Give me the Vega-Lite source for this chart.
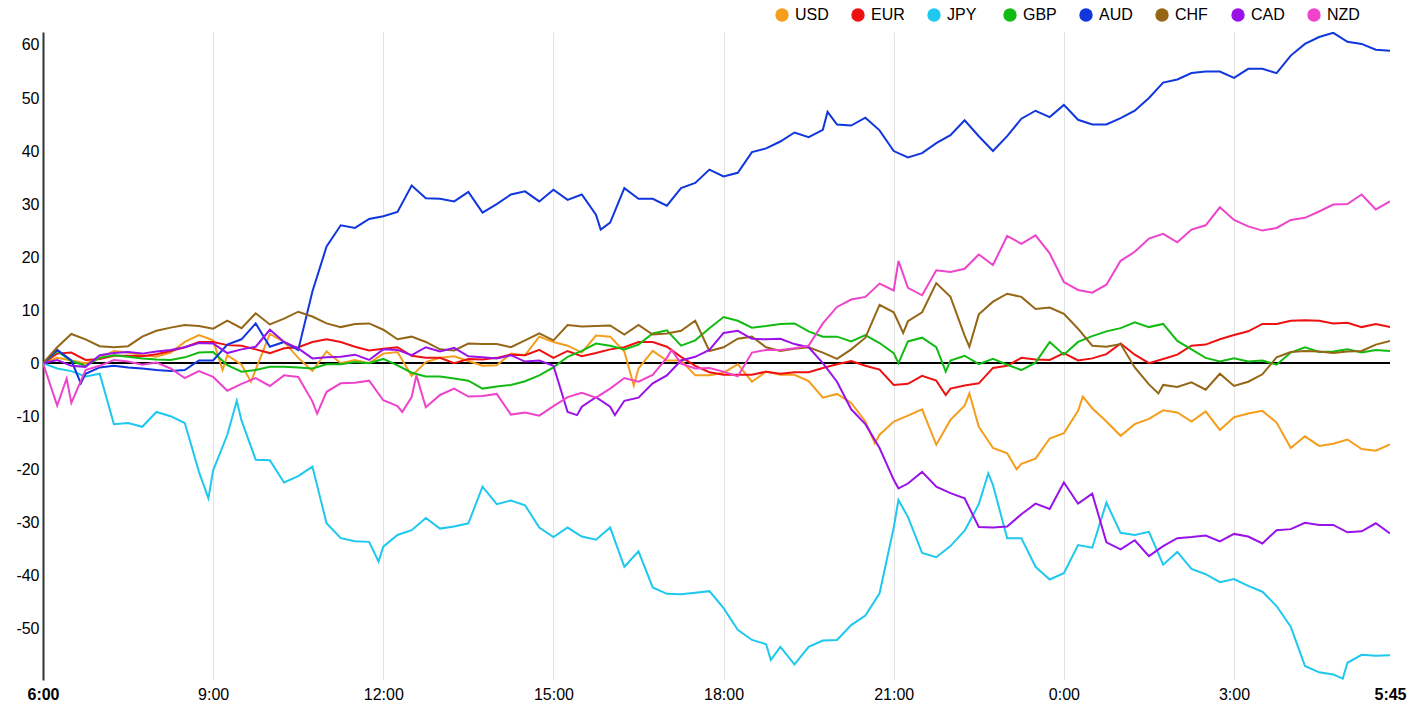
{
  "$schema": "https://vega.github.io/schema/vega-lite/v6.json",
  "width": 1347,
  "height": 648,
  "autosize": {"type": "none"},
  "padding": {"left": 43, "top": 32, "right": 20, "bottom": 31},
  "background": "#ffffff",
  "data": {
    "values": [
      {"t":"2024-05-14T06:00","c":"USD","v":0},{"t":"2024-05-14T06:15","c":"USD","v":1},{"t":"2024-05-14T06:30","c":"USD","v":0.5},{"t":"2024-05-14T06:45","c":"USD","v":0},
      {"t":"2024-05-14T07:00","c":"USD","v":1},{"t":"2024-05-14T07:15","c":"USD","v":2.3},{"t":"2024-05-14T07:30","c":"USD","v":2},{"t":"2024-05-14T07:45","c":"USD","v":1.5},
      {"t":"2024-05-14T08:00","c":"USD","v":1.2},{"t":"2024-05-14T08:15","c":"USD","v":2},{"t":"2024-05-14T08:30","c":"USD","v":4},{"t":"2024-05-14T08:45","c":"USD","v":5.3},
      {"t":"2024-05-14T09:00","c":"USD","v":4.3},{"t":"2024-05-14T09:15","c":"USD","v":1.5},{"t":"2024-05-14T09:30","c":"USD","v":-0.3},{"t":"2024-05-14T09:45","c":"USD","v":-1.2},
      {"t":"2024-05-14T10:00","c":"USD","v":5.5},{"t":"2024-05-14T10:15","c":"USD","v":4},{"t":"2024-05-14T10:30","c":"USD","v":1},{"t":"2024-05-14T10:45","c":"USD","v":-1.5},
      {"t":"2024-05-14T11:00","c":"USD","v":2.2},{"t":"2024-05-14T11:15","c":"USD","v":0},{"t":"2024-05-14T11:30","c":"USD","v":0.6},{"t":"2024-05-14T11:45","c":"USD","v":0},
      {"t":"2024-05-14T12:00","c":"USD","v":1.8},{"t":"2024-05-14T12:15","c":"USD","v":2.1},{"t":"2024-05-14T12:30","c":"USD","v":-2.4},{"t":"2024-05-14T12:45","c":"USD","v":0.2},
      {"t":"2024-05-14T13:00","c":"USD","v":1},{"t":"2024-05-14T13:15","c":"USD","v":1.3},{"t":"2024-05-14T13:30","c":"USD","v":0.4},{"t":"2024-05-14T13:45","c":"USD","v":-0.5},
      {"t":"2024-05-14T14:00","c":"USD","v":-0.4},{"t":"2024-05-14T14:15","c":"USD","v":1.8},{"t":"2024-05-14T14:30","c":"USD","v":1.5},{"t":"2024-05-14T14:45","c":"USD","v":5},
      {"t":"2024-05-14T15:00","c":"USD","v":4},{"t":"2024-05-14T15:15","c":"USD","v":3.3},{"t":"2024-05-14T15:30","c":"USD","v":2},{"t":"2024-05-14T15:45","c":"USD","v":5.2},
      {"t":"2024-05-14T16:00","c":"USD","v":5},{"t":"2024-05-14T16:15","c":"USD","v":2.2},{"t":"2024-05-14T16:30","c":"USD","v":-1},{"t":"2024-05-14T16:45","c":"USD","v":2.3},
      {"t":"2024-05-14T17:00","c":"USD","v":0.5},{"t":"2024-05-14T17:15","c":"USD","v":0.5},{"t":"2024-05-14T17:30","c":"USD","v":-2.3},{"t":"2024-05-14T17:45","c":"USD","v":-2.3},
      {"t":"2024-05-14T18:00","c":"USD","v":-1.8},{"t":"2024-05-14T18:15","c":"USD","v":-0.2},{"t":"2024-05-14T18:30","c":"USD","v":-3.5},{"t":"2024-05-14T18:45","c":"USD","v":-1.6},
      {"t":"2024-05-14T19:00","c":"USD","v":-2.2},{"t":"2024-05-14T19:15","c":"USD","v":-2.2},{"t":"2024-05-14T19:30","c":"USD","v":-3.4},{"t":"2024-05-14T19:45","c":"USD","v":-6.5},
      {"t":"2024-05-14T20:00","c":"USD","v":-5.8},{"t":"2024-05-14T20:15","c":"USD","v":-7.5},{"t":"2024-05-14T20:30","c":"USD","v":-11},{"t":"2024-05-14T20:45","c":"USD","v":-13.5},
      {"t":"2024-05-14T21:00","c":"USD","v":-11},{"t":"2024-05-14T21:15","c":"USD","v":-9.9},{"t":"2024-05-14T21:30","c":"USD","v":-8.7},{"t":"2024-05-14T21:45","c":"USD","v":-15.4},
      {"t":"2024-05-14T22:00","c":"USD","v":-10.7},{"t":"2024-05-14T22:15","c":"USD","v":-8},{"t":"2024-05-14T22:30","c":"USD","v":-12},{"t":"2024-05-14T22:45","c":"USD","v":-16},
      {"t":"2024-05-14T23:00","c":"USD","v":-17},{"t":"2024-05-14T23:15","c":"USD","v":-19},{"t":"2024-05-14T23:30","c":"USD","v":-18},{"t":"2024-05-14T23:45","c":"USD","v":-14.2},
      {"t":"2024-05-15T00:00","c":"USD","v":-13.2},{"t":"2024-05-15T00:15","c":"USD","v":-9},{"t":"2024-05-15T00:30","c":"USD","v":-8.5},{"t":"2024-05-15T00:45","c":"USD","v":-11},
      {"t":"2024-05-15T01:00","c":"USD","v":-13.7},{"t":"2024-05-15T01:15","c":"USD","v":-11.5},{"t":"2024-05-15T01:30","c":"USD","v":-10.5},{"t":"2024-05-15T01:45","c":"USD","v":-8.9},
      {"t":"2024-05-15T02:00","c":"USD","v":-9.3},{"t":"2024-05-15T02:15","c":"USD","v":-11},{"t":"2024-05-15T02:30","c":"USD","v":-9.1},{"t":"2024-05-15T02:45","c":"USD","v":-12.6},
      {"t":"2024-05-15T03:00","c":"USD","v":-10.2},{"t":"2024-05-15T03:15","c":"USD","v":-9.5},{"t":"2024-05-15T03:30","c":"USD","v":-9},{"t":"2024-05-15T03:45","c":"USD","v":-11.2},
      {"t":"2024-05-15T04:00","c":"USD","v":-16},{"t":"2024-05-15T04:15","c":"USD","v":-13.8},{"t":"2024-05-15T04:30","c":"USD","v":-15.6},{"t":"2024-05-15T04:45","c":"USD","v":-15.2},
      {"t":"2024-05-15T05:00","c":"USD","v":-14.4},{"t":"2024-05-15T05:15","c":"USD","v":-16.2},{"t":"2024-05-15T05:30","c":"USD","v":-16.5},{"t":"2024-05-15T05:45","c":"USD","v":-15.3},
      {"t":"2024-05-14T09:10","c":"USD","v":-1.3},{"t":"2024-05-14T09:40","c":"USD","v":-3.5},{"t":"2024-05-14T16:25","c":"USD","v":-4.2},{"t":"2024-05-14T20:40","c":"USD","v":-15.1},
      {"t":"2024-05-14T22:20","c":"USD","v":-5.7},{"t":"2024-05-14T23:10","c":"USD","v":-20},{"t":"2024-05-15T00:20","c":"USD","v":-6.3},

      {"t":"2024-05-14T06:00","c":"EUR","v":0},{"t":"2024-05-14T06:15","c":"EUR","v":1.8},{"t":"2024-05-14T06:30","c":"EUR","v":2},{"t":"2024-05-14T06:45","c":"EUR","v":0.6},
      {"t":"2024-05-14T07:00","c":"EUR","v":0.8},{"t":"2024-05-14T07:15","c":"EUR","v":1.4},{"t":"2024-05-14T07:30","c":"EUR","v":1.4},{"t":"2024-05-14T07:45","c":"EUR","v":1.3},
      {"t":"2024-05-14T08:00","c":"EUR","v":1.7},{"t":"2024-05-14T08:15","c":"EUR","v":2.3},{"t":"2024-05-14T08:30","c":"EUR","v":3},{"t":"2024-05-14T08:45","c":"EUR","v":4},
      {"t":"2024-05-14T09:00","c":"EUR","v":4},{"t":"2024-05-14T09:15","c":"EUR","v":3.4},{"t":"2024-05-14T09:30","c":"EUR","v":3.3},{"t":"2024-05-14T09:45","c":"EUR","v":2.6},
      {"t":"2024-05-14T10:00","c":"EUR","v":1.9},{"t":"2024-05-14T10:15","c":"EUR","v":2.8},{"t":"2024-05-14T10:30","c":"EUR","v":3},{"t":"2024-05-14T10:45","c":"EUR","v":4},
      {"t":"2024-05-14T11:00","c":"EUR","v":4.5},{"t":"2024-05-14T11:15","c":"EUR","v":4},{"t":"2024-05-14T11:30","c":"EUR","v":3.1},{"t":"2024-05-14T11:45","c":"EUR","v":2.4},
      {"t":"2024-05-14T12:00","c":"EUR","v":2.7},{"t":"2024-05-14T12:15","c":"EUR","v":3},{"t":"2024-05-14T12:30","c":"EUR","v":1.4},{"t":"2024-05-14T12:45","c":"EUR","v":1},
      {"t":"2024-05-14T13:00","c":"EUR","v":1},{"t":"2024-05-14T13:15","c":"EUR","v":0},{"t":"2024-05-14T13:30","c":"EUR","v":0.8},{"t":"2024-05-14T13:45","c":"EUR","v":0.7},
      {"t":"2024-05-14T14:00","c":"EUR","v":1},{"t":"2024-05-14T14:15","c":"EUR","v":1.6},{"t":"2024-05-14T14:30","c":"EUR","v":1.5},{"t":"2024-05-14T14:45","c":"EUR","v":2.5},
      {"t":"2024-05-14T15:00","c":"EUR","v":1},{"t":"2024-05-14T15:15","c":"EUR","v":2.3},{"t":"2024-05-14T15:30","c":"EUR","v":1.3},{"t":"2024-05-14T15:45","c":"EUR","v":1.9},
      {"t":"2024-05-14T16:00","c":"EUR","v":2.6},{"t":"2024-05-14T16:15","c":"EUR","v":3},{"t":"2024-05-14T16:30","c":"EUR","v":4},{"t":"2024-05-14T16:45","c":"EUR","v":4},
      {"t":"2024-05-14T17:00","c":"EUR","v":3.1},{"t":"2024-05-14T17:15","c":"EUR","v":1.2},{"t":"2024-05-14T17:30","c":"EUR","v":-0.5},{"t":"2024-05-14T17:45","c":"EUR","v":-1.7},
      {"t":"2024-05-14T18:00","c":"EUR","v":-2.2},{"t":"2024-05-14T18:15","c":"EUR","v":-2.2},{"t":"2024-05-14T18:30","c":"EUR","v":-2.2},{"t":"2024-05-14T18:45","c":"EUR","v":-1.6},
      {"t":"2024-05-14T19:00","c":"EUR","v":-2},{"t":"2024-05-14T19:15","c":"EUR","v":-1.7},{"t":"2024-05-14T19:30","c":"EUR","v":-1.7},{"t":"2024-05-14T19:45","c":"EUR","v":-0.9},
      {"t":"2024-05-14T20:00","c":"EUR","v":-0.2},{"t":"2024-05-14T20:15","c":"EUR","v":0.4},{"t":"2024-05-14T20:30","c":"EUR","v":-0.5},{"t":"2024-05-14T20:45","c":"EUR","v":-1.2},
      {"t":"2024-05-14T21:00","c":"EUR","v":-4.1},{"t":"2024-05-14T21:15","c":"EUR","v":-3.9},{"t":"2024-05-14T21:30","c":"EUR","v":-2.4},{"t":"2024-05-14T21:45","c":"EUR","v":-3.3},
      {"t":"2024-05-14T22:00","c":"EUR","v":-4.8},{"t":"2024-05-14T22:15","c":"EUR","v":-4.2},{"t":"2024-05-14T22:30","c":"EUR","v":-3.8},{"t":"2024-05-14T22:45","c":"EUR","v":-0.9},
      {"t":"2024-05-14T23:00","c":"EUR","v":-0.5},{"t":"2024-05-14T23:15","c":"EUR","v":1},{"t":"2024-05-14T23:30","c":"EUR","v":0.7},{"t":"2024-05-14T23:45","c":"EUR","v":0.6},
      {"t":"2024-05-15T00:00","c":"EUR","v":1.9},{"t":"2024-05-15T00:15","c":"EUR","v":0.5},{"t":"2024-05-15T00:30","c":"EUR","v":0.9},{"t":"2024-05-15T00:45","c":"EUR","v":1.7},
      {"t":"2024-05-15T01:00","c":"EUR","v":3.7},{"t":"2024-05-15T01:15","c":"EUR","v":1.6},{"t":"2024-05-15T01:30","c":"EUR","v":0},{"t":"2024-05-15T01:45","c":"EUR","v":0.8},
      {"t":"2024-05-15T02:00","c":"EUR","v":1.6},{"t":"2024-05-15T02:15","c":"EUR","v":3.3},{"t":"2024-05-15T02:30","c":"EUR","v":3.5},{"t":"2024-05-15T02:45","c":"EUR","v":4.5},
      {"t":"2024-05-15T03:00","c":"EUR","v":5.3},{"t":"2024-05-15T03:15","c":"EUR","v":6},{"t":"2024-05-15T03:30","c":"EUR","v":7.4},{"t":"2024-05-15T03:45","c":"EUR","v":7.4},
      {"t":"2024-05-15T04:00","c":"EUR","v":8},{"t":"2024-05-15T04:15","c":"EUR","v":8.1},{"t":"2024-05-15T04:30","c":"EUR","v":8},{"t":"2024-05-15T04:45","c":"EUR","v":7.5},
      {"t":"2024-05-15T05:00","c":"EUR","v":7.6},{"t":"2024-05-15T05:15","c":"EUR","v":6.8},{"t":"2024-05-15T05:30","c":"EUR","v":7.4},{"t":"2024-05-15T05:45","c":"EUR","v":6.8},
      {"t":"2024-05-14T21:55","c":"EUR","v":-6},

      {"t":"2024-05-14T06:00","c":"JPY","v":0},{"t":"2024-05-14T06:15","c":"JPY","v":-1},{"t":"2024-05-14T06:30","c":"JPY","v":-1.5},{"t":"2024-05-14T06:45","c":"JPY","v":-2.5},
      {"t":"2024-05-14T07:00","c":"JPY","v":-2},{"t":"2024-05-14T07:15","c":"JPY","v":-11.5},{"t":"2024-05-14T07:30","c":"JPY","v":-11.3},{"t":"2024-05-14T07:45","c":"JPY","v":-12},
      {"t":"2024-05-14T08:00","c":"JPY","v":-9.2},{"t":"2024-05-14T08:15","c":"JPY","v":-10},{"t":"2024-05-14T08:30","c":"JPY","v":-11.3},{"t":"2024-05-14T08:45","c":"JPY","v":-20.5},
      {"t":"2024-05-14T09:00","c":"JPY","v":-20.2},{"t":"2024-05-14T09:15","c":"JPY","v":-13.5},{"t":"2024-05-14T09:30","c":"JPY","v":-10.8},{"t":"2024-05-14T09:45","c":"JPY","v":-18.2},
      {"t":"2024-05-14T10:00","c":"JPY","v":-18.3},{"t":"2024-05-14T10:15","c":"JPY","v":-22.5},{"t":"2024-05-14T10:30","c":"JPY","v":-21.3},{"t":"2024-05-14T10:45","c":"JPY","v":-19.5},
      {"t":"2024-05-14T11:00","c":"JPY","v":-30.2},{"t":"2024-05-14T11:15","c":"JPY","v":-33},{"t":"2024-05-14T11:30","c":"JPY","v":-33.6},{"t":"2024-05-14T11:45","c":"JPY","v":-33.7},
      {"t":"2024-05-14T12:00","c":"JPY","v":-34.6},{"t":"2024-05-14T12:15","c":"JPY","v":-32.4},{"t":"2024-05-14T12:30","c":"JPY","v":-31.5},{"t":"2024-05-14T12:45","c":"JPY","v":-29.2},
      {"t":"2024-05-14T13:00","c":"JPY","v":-31.2},{"t":"2024-05-14T13:15","c":"JPY","v":-30.8},{"t":"2024-05-14T13:30","c":"JPY","v":-30.2},{"t":"2024-05-14T13:45","c":"JPY","v":-23.3},
      {"t":"2024-05-14T14:00","c":"JPY","v":-26.6},{"t":"2024-05-14T14:15","c":"JPY","v":-25.9},{"t":"2024-05-14T14:30","c":"JPY","v":-26.8},{"t":"2024-05-14T14:45","c":"JPY","v":-31},
      {"t":"2024-05-14T15:00","c":"JPY","v":-32.8},{"t":"2024-05-14T15:15","c":"JPY","v":-31},{"t":"2024-05-14T15:30","c":"JPY","v":-32.7},{"t":"2024-05-14T15:45","c":"JPY","v":-33.3},
      {"t":"2024-05-14T16:00","c":"JPY","v":-31},{"t":"2024-05-14T16:15","c":"JPY","v":-38.4},{"t":"2024-05-14T16:30","c":"JPY","v":-35.5},{"t":"2024-05-14T16:45","c":"JPY","v":-42.3},
      {"t":"2024-05-14T17:00","c":"JPY","v":-43.5},{"t":"2024-05-14T17:15","c":"JPY","v":-43.6},{"t":"2024-05-14T17:30","c":"JPY","v":-43.3},{"t":"2024-05-14T17:45","c":"JPY","v":-43},
      {"t":"2024-05-14T18:00","c":"JPY","v":-46.2},{"t":"2024-05-14T18:15","c":"JPY","v":-50.3},{"t":"2024-05-14T18:30","c":"JPY","v":-52.2},{"t":"2024-05-14T18:45","c":"JPY","v":-53},
      {"t":"2024-05-14T19:00","c":"JPY","v":-53.5},{"t":"2024-05-14T19:15","c":"JPY","v":-56.8},{"t":"2024-05-14T19:30","c":"JPY","v":-53.5},{"t":"2024-05-14T19:45","c":"JPY","v":-52.3},
      {"t":"2024-05-14T20:00","c":"JPY","v":-52.2},{"t":"2024-05-14T20:15","c":"JPY","v":-49.4},{"t":"2024-05-14T20:30","c":"JPY","v":-47.6},{"t":"2024-05-14T20:45","c":"JPY","v":-43.4},
      {"t":"2024-05-14T21:00","c":"JPY","v":-31},{"t":"2024-05-14T21:15","c":"JPY","v":-29},{"t":"2024-05-14T21:30","c":"JPY","v":-35.8},{"t":"2024-05-14T21:45","c":"JPY","v":-36.6},
      {"t":"2024-05-14T22:00","c":"JPY","v":-34.5},{"t":"2024-05-14T22:15","c":"JPY","v":-31.6},{"t":"2024-05-14T22:30","c":"JPY","v":-26.6},{"t":"2024-05-14T22:45","c":"JPY","v":-23},
      {"t":"2024-05-14T23:00","c":"JPY","v":-33},{"t":"2024-05-14T23:15","c":"JPY","v":-33},{"t":"2024-05-14T23:30","c":"JPY","v":-38.4},{"t":"2024-05-14T23:45","c":"JPY","v":-40.8},
      {"t":"2024-05-15T00:00","c":"JPY","v":-39.6},{"t":"2024-05-15T00:15","c":"JPY","v":-34.3},{"t":"2024-05-15T00:30","c":"JPY","v":-34.8},{"t":"2024-05-15T00:45","c":"JPY","v":-26.3},
      {"t":"2024-05-15T01:00","c":"JPY","v":-32},{"t":"2024-05-15T01:15","c":"JPY","v":-32.4},{"t":"2024-05-15T01:30","c":"JPY","v":-31.8},{"t":"2024-05-15T01:45","c":"JPY","v":-38},
      {"t":"2024-05-15T02:00","c":"JPY","v":-35.6},{"t":"2024-05-15T02:15","c":"JPY","v":-38.8},{"t":"2024-05-15T02:30","c":"JPY","v":-39.8},{"t":"2024-05-15T02:45","c":"JPY","v":-41.3},
      {"t":"2024-05-15T03:00","c":"JPY","v":-40.7},{"t":"2024-05-15T03:15","c":"JPY","v":-42},{"t":"2024-05-15T03:30","c":"JPY","v":-43.1},{"t":"2024-05-15T03:45","c":"JPY","v":-45.8},
      {"t":"2024-05-15T04:00","c":"JPY","v":-49.7},{"t":"2024-05-15T04:15","c":"JPY","v":-57.1},{"t":"2024-05-15T04:30","c":"JPY","v":-58.3},{"t":"2024-05-15T04:45","c":"JPY","v":-58.7},
      {"t":"2024-05-15T05:00","c":"JPY","v":-56.5},{"t":"2024-05-15T05:15","c":"JPY","v":-55},{"t":"2024-05-15T05:30","c":"JPY","v":-55.2},{"t":"2024-05-15T05:45","c":"JPY","v":-55.1},
      {"t":"2024-05-14T08:55","c":"JPY","v":-25.5},{"t":"2024-05-14T09:25","c":"JPY","v":-7.1},{"t":"2024-05-14T11:55","c":"JPY","v":-37.4},{"t":"2024-05-14T18:50","c":"JPY","v":-56},
      {"t":"2024-05-14T21:05","c":"JPY","v":-25.8},{"t":"2024-05-14T22:40","c":"JPY","v":-20.8},{"t":"2024-05-15T04:55","c":"JPY","v":-59.5},

      {"t":"2024-05-14T06:00","c":"GBP","v":0},{"t":"2024-05-14T06:15","c":"GBP","v":2.3},{"t":"2024-05-14T06:30","c":"GBP","v":0.4},{"t":"2024-05-14T06:45","c":"GBP","v":-0.5},
      {"t":"2024-05-14T07:00","c":"GBP","v":1},{"t":"2024-05-14T07:15","c":"GBP","v":1.5},{"t":"2024-05-14T07:30","c":"GBP","v":1.2},{"t":"2024-05-14T07:45","c":"GBP","v":0.9},
      {"t":"2024-05-14T08:00","c":"GBP","v":0.7},{"t":"2024-05-14T08:15","c":"GBP","v":0.6},{"t":"2024-05-14T08:30","c":"GBP","v":1.1},{"t":"2024-05-14T08:45","c":"GBP","v":2},
      {"t":"2024-05-14T09:00","c":"GBP","v":2.1},{"t":"2024-05-14T09:15","c":"GBP","v":-0.4},{"t":"2024-05-14T09:30","c":"GBP","v":-1.6},{"t":"2024-05-14T09:45","c":"GBP","v":-1.3},
      {"t":"2024-05-14T10:00","c":"GBP","v":-0.7},{"t":"2024-05-14T10:15","c":"GBP","v":-0.7},{"t":"2024-05-14T10:30","c":"GBP","v":-0.8},{"t":"2024-05-14T10:45","c":"GBP","v":-1},
      {"t":"2024-05-14T11:00","c":"GBP","v":-0.2},{"t":"2024-05-14T11:15","c":"GBP","v":-0.2},{"t":"2024-05-14T11:30","c":"GBP","v":0.2},{"t":"2024-05-14T11:45","c":"GBP","v":0},
      {"t":"2024-05-14T12:00","c":"GBP","v":0.8},{"t":"2024-05-14T12:15","c":"GBP","v":-0.4},{"t":"2024-05-14T12:30","c":"GBP","v":-1.8},{"t":"2024-05-14T12:45","c":"GBP","v":-2.5},
      {"t":"2024-05-14T13:00","c":"GBP","v":-2.5},{"t":"2024-05-14T13:15","c":"GBP","v":-2.9},{"t":"2024-05-14T13:30","c":"GBP","v":-3.3},{"t":"2024-05-14T13:45","c":"GBP","v":-4.8},
      {"t":"2024-05-14T14:00","c":"GBP","v":-4.4},{"t":"2024-05-14T14:15","c":"GBP","v":-4.1},{"t":"2024-05-14T14:30","c":"GBP","v":-3.4},{"t":"2024-05-14T14:45","c":"GBP","v":-2.3},
      {"t":"2024-05-14T15:00","c":"GBP","v":-0.8},{"t":"2024-05-14T15:15","c":"GBP","v":1.2},{"t":"2024-05-14T15:30","c":"GBP","v":2.3},{"t":"2024-05-14T15:45","c":"GBP","v":3.7},
      {"t":"2024-05-14T16:00","c":"GBP","v":3.3},{"t":"2024-05-14T16:15","c":"GBP","v":2.6},{"t":"2024-05-14T16:30","c":"GBP","v":3.5},{"t":"2024-05-14T16:45","c":"GBP","v":5.6},
      {"t":"2024-05-14T17:00","c":"GBP","v":6.2},{"t":"2024-05-14T17:15","c":"GBP","v":3.3},{"t":"2024-05-14T17:30","c":"GBP","v":4.3},{"t":"2024-05-14T17:45","c":"GBP","v":6.6},
      {"t":"2024-05-14T18:00","c":"GBP","v":8.7},{"t":"2024-05-14T18:15","c":"GBP","v":8},{"t":"2024-05-14T18:30","c":"GBP","v":6.7},{"t":"2024-05-14T18:45","c":"GBP","v":7},
      {"t":"2024-05-14T19:00","c":"GBP","v":7.4},{"t":"2024-05-14T19:15","c":"GBP","v":7.5},{"t":"2024-05-14T19:30","c":"GBP","v":6},{"t":"2024-05-14T19:45","c":"GBP","v":5},
      {"t":"2024-05-14T20:00","c":"GBP","v":5},{"t":"2024-05-14T20:15","c":"GBP","v":4.1},{"t":"2024-05-14T20:30","c":"GBP","v":5.3},{"t":"2024-05-14T20:45","c":"GBP","v":3.8},
      {"t":"2024-05-14T21:00","c":"GBP","v":1.9},{"t":"2024-05-14T21:15","c":"GBP","v":4.1},{"t":"2024-05-14T21:30","c":"GBP","v":4.8},{"t":"2024-05-14T21:45","c":"GBP","v":3},
      {"t":"2024-05-14T22:00","c":"GBP","v":0.5},{"t":"2024-05-14T22:15","c":"GBP","v":1.4},{"t":"2024-05-14T22:30","c":"GBP","v":-0.2},{"t":"2024-05-14T22:45","c":"GBP","v":0.8},
      {"t":"2024-05-14T23:00","c":"GBP","v":-0.3},{"t":"2024-05-14T23:15","c":"GBP","v":-1.3},{"t":"2024-05-14T23:30","c":"GBP","v":0.1},{"t":"2024-05-14T23:45","c":"GBP","v":4},
      {"t":"2024-05-15T00:00","c":"GBP","v":1.6},{"t":"2024-05-15T00:15","c":"GBP","v":4},{"t":"2024-05-15T00:30","c":"GBP","v":5.1},{"t":"2024-05-15T00:45","c":"GBP","v":6},
      {"t":"2024-05-15T01:00","c":"GBP","v":6.6},{"t":"2024-05-15T01:15","c":"GBP","v":7.7},{"t":"2024-05-15T01:30","c":"GBP","v":6.8},{"t":"2024-05-15T01:45","c":"GBP","v":7.4},
      {"t":"2024-05-15T02:00","c":"GBP","v":4.2},{"t":"2024-05-15T02:15","c":"GBP","v":2.6},{"t":"2024-05-15T02:30","c":"GBP","v":1},{"t":"2024-05-15T02:45","c":"GBP","v":0.3},
      {"t":"2024-05-15T03:00","c":"GBP","v":0.9},{"t":"2024-05-15T03:15","c":"GBP","v":0.3},{"t":"2024-05-15T03:30","c":"GBP","v":0.5},{"t":"2024-05-15T03:45","c":"GBP","v":-0.3},
      {"t":"2024-05-15T04:00","c":"GBP","v":2},{"t":"2024-05-15T04:15","c":"GBP","v":3},{"t":"2024-05-15T04:30","c":"GBP","v":2.1},{"t":"2024-05-15T04:45","c":"GBP","v":2.2},
      {"t":"2024-05-15T05:00","c":"GBP","v":2.6},{"t":"2024-05-15T05:15","c":"GBP","v":2},{"t":"2024-05-15T05:30","c":"GBP","v":2.5},{"t":"2024-05-15T05:45","c":"GBP","v":2.3},
      {"t":"2024-05-14T21:05","c":"GBP","v":0},{"t":"2024-05-14T21:55","c":"GBP","v":-1.6},

      {"t":"2024-05-14T06:00","c":"AUD","v":0},{"t":"2024-05-14T06:15","c":"AUD","v":2.5},{"t":"2024-05-14T06:30","c":"AUD","v":0.5},{"t":"2024-05-14T06:45","c":"AUD","v":-2},
      {"t":"2024-05-14T07:00","c":"AUD","v":-0.8},{"t":"2024-05-14T07:15","c":"AUD","v":-0.5},{"t":"2024-05-14T07:30","c":"AUD","v":-0.8},{"t":"2024-05-14T07:45","c":"AUD","v":-1},
      {"t":"2024-05-14T08:00","c":"AUD","v":-1.3},{"t":"2024-05-14T08:15","c":"AUD","v":-1.5},{"t":"2024-05-14T08:30","c":"AUD","v":-1.3},{"t":"2024-05-14T08:45","c":"AUD","v":0.5},
      {"t":"2024-05-14T09:00","c":"AUD","v":0.5},{"t":"2024-05-14T09:15","c":"AUD","v":3.5},{"t":"2024-05-14T09:30","c":"AUD","v":4.5},{"t":"2024-05-14T09:45","c":"AUD","v":7.5},
      {"t":"2024-05-14T10:00","c":"AUD","v":3.1},{"t":"2024-05-14T10:15","c":"AUD","v":4},{"t":"2024-05-14T10:30","c":"AUD","v":2.5},{"t":"2024-05-14T10:45","c":"AUD","v":13.5},
      {"t":"2024-05-14T11:00","c":"AUD","v":22},{"t":"2024-05-14T11:15","c":"AUD","v":26},{"t":"2024-05-14T11:30","c":"AUD","v":25.5},{"t":"2024-05-14T11:45","c":"AUD","v":27.2},
      {"t":"2024-05-14T12:00","c":"AUD","v":27.7},{"t":"2024-05-14T12:15","c":"AUD","v":28.5},{"t":"2024-05-14T12:30","c":"AUD","v":33.5},{"t":"2024-05-14T12:45","c":"AUD","v":31.1},
      {"t":"2024-05-14T13:00","c":"AUD","v":31},{"t":"2024-05-14T13:15","c":"AUD","v":30.5},{"t":"2024-05-14T13:30","c":"AUD","v":32.3},{"t":"2024-05-14T13:45","c":"AUD","v":28.4},
      {"t":"2024-05-14T14:00","c":"AUD","v":30},{"t":"2024-05-14T14:15","c":"AUD","v":31.8},{"t":"2024-05-14T14:30","c":"AUD","v":32.4},{"t":"2024-05-14T14:45","c":"AUD","v":30.5},
      {"t":"2024-05-14T15:00","c":"AUD","v":32.7},{"t":"2024-05-14T15:15","c":"AUD","v":30.8},{"t":"2024-05-14T15:30","c":"AUD","v":31.8},{"t":"2024-05-14T15:45","c":"AUD","v":28},
      {"t":"2024-05-14T16:00","c":"AUD","v":26.5},{"t":"2024-05-14T16:15","c":"AUD","v":33},{"t":"2024-05-14T16:30","c":"AUD","v":31},{"t":"2024-05-14T16:45","c":"AUD","v":31},
      {"t":"2024-05-14T17:00","c":"AUD","v":29.7},{"t":"2024-05-14T17:15","c":"AUD","v":33},{"t":"2024-05-14T17:30","c":"AUD","v":34},{"t":"2024-05-14T17:45","c":"AUD","v":36.5},
      {"t":"2024-05-14T18:00","c":"AUD","v":35.2},{"t":"2024-05-14T18:15","c":"AUD","v":35.9},{"t":"2024-05-14T18:30","c":"AUD","v":39.8},{"t":"2024-05-14T18:45","c":"AUD","v":40.5},
      {"t":"2024-05-14T19:00","c":"AUD","v":41.8},{"t":"2024-05-14T19:15","c":"AUD","v":43.5},{"t":"2024-05-14T19:30","c":"AUD","v":42.6},{"t":"2024-05-14T19:45","c":"AUD","v":44},
      {"t":"2024-05-14T20:00","c":"AUD","v":45},{"t":"2024-05-14T20:15","c":"AUD","v":44.8},{"t":"2024-05-14T20:30","c":"AUD","v":46.3},{"t":"2024-05-14T20:45","c":"AUD","v":43.9},
      {"t":"2024-05-14T21:00","c":"AUD","v":40},{"t":"2024-05-14T21:15","c":"AUD","v":38.8},{"t":"2024-05-14T21:30","c":"AUD","v":39.6},{"t":"2024-05-14T21:45","c":"AUD","v":41.5},
      {"t":"2024-05-14T22:00","c":"AUD","v":43},{"t":"2024-05-14T22:15","c":"AUD","v":45.8},{"t":"2024-05-14T22:30","c":"AUD","v":42.8},{"t":"2024-05-14T22:45","c":"AUD","v":40},
      {"t":"2024-05-14T23:00","c":"AUD","v":42.8},{"t":"2024-05-14T23:15","c":"AUD","v":46.1},{"t":"2024-05-14T23:30","c":"AUD","v":47.6},{"t":"2024-05-14T23:45","c":"AUD","v":46.4},
      {"t":"2024-05-15T00:00","c":"AUD","v":48.7},{"t":"2024-05-15T00:15","c":"AUD","v":45.9},{"t":"2024-05-15T00:30","c":"AUD","v":45},{"t":"2024-05-15T00:45","c":"AUD","v":45},
      {"t":"2024-05-15T01:00","c":"AUD","v":46.2},{"t":"2024-05-15T01:15","c":"AUD","v":47.6},{"t":"2024-05-15T01:30","c":"AUD","v":50},{"t":"2024-05-15T01:45","c":"AUD","v":52.9},
      {"t":"2024-05-15T02:00","c":"AUD","v":53.5},{"t":"2024-05-15T02:15","c":"AUD","v":54.7},{"t":"2024-05-15T02:30","c":"AUD","v":55},{"t":"2024-05-15T02:45","c":"AUD","v":55},
      {"t":"2024-05-15T03:00","c":"AUD","v":53.8},{"t":"2024-05-15T03:15","c":"AUD","v":55.5},{"t":"2024-05-15T03:30","c":"AUD","v":55.5},{"t":"2024-05-15T03:45","c":"AUD","v":54.7},
      {"t":"2024-05-15T04:00","c":"AUD","v":58},{"t":"2024-05-15T04:15","c":"AUD","v":60.2},{"t":"2024-05-15T04:30","c":"AUD","v":61.5},{"t":"2024-05-15T04:45","c":"AUD","v":62.3},
      {"t":"2024-05-15T05:00","c":"AUD","v":60.6},{"t":"2024-05-15T05:15","c":"AUD","v":60.2},{"t":"2024-05-15T05:30","c":"AUD","v":59.1},{"t":"2024-05-15T05:45","c":"AUD","v":58.9},
      {"t":"2024-05-14T06:40","c":"AUD","v":-3.8},{"t":"2024-05-14T15:50","c":"AUD","v":25.2},{"t":"2024-05-14T19:50","c":"AUD","v":47.4},

      {"t":"2024-05-14T06:00","c":"CHF","v":0},{"t":"2024-05-14T06:15","c":"CHF","v":3},{"t":"2024-05-14T06:30","c":"CHF","v":5.5},{"t":"2024-05-14T06:45","c":"CHF","v":4.5},
      {"t":"2024-05-14T07:00","c":"CHF","v":3.2},{"t":"2024-05-14T07:15","c":"CHF","v":3},{"t":"2024-05-14T07:30","c":"CHF","v":3.2},{"t":"2024-05-14T07:45","c":"CHF","v":5},
      {"t":"2024-05-14T08:00","c":"CHF","v":6.1},{"t":"2024-05-14T08:15","c":"CHF","v":6.7},{"t":"2024-05-14T08:30","c":"CHF","v":7.2},{"t":"2024-05-14T08:45","c":"CHF","v":7},
      {"t":"2024-05-14T09:00","c":"CHF","v":6.5},{"t":"2024-05-14T09:15","c":"CHF","v":8},{"t":"2024-05-14T09:30","c":"CHF","v":6.6},{"t":"2024-05-14T09:45","c":"CHF","v":9.4},
      {"t":"2024-05-14T10:00","c":"CHF","v":7.3},{"t":"2024-05-14T10:15","c":"CHF","v":8.4},{"t":"2024-05-14T10:30","c":"CHF","v":9.7},{"t":"2024-05-14T10:45","c":"CHF","v":8.8},
      {"t":"2024-05-14T11:00","c":"CHF","v":7.5},{"t":"2024-05-14T11:15","c":"CHF","v":6.8},{"t":"2024-05-14T11:30","c":"CHF","v":7.4},{"t":"2024-05-14T11:45","c":"CHF","v":7.5},
      {"t":"2024-05-14T12:00","c":"CHF","v":6.3},{"t":"2024-05-14T12:15","c":"CHF","v":4.5},{"t":"2024-05-14T12:30","c":"CHF","v":5},{"t":"2024-05-14T12:45","c":"CHF","v":4},
      {"t":"2024-05-14T13:00","c":"CHF","v":2.6},{"t":"2024-05-14T13:15","c":"CHF","v":2.4},{"t":"2024-05-14T13:30","c":"CHF","v":3.7},{"t":"2024-05-14T13:45","c":"CHF","v":3.6},
      {"t":"2024-05-14T14:00","c":"CHF","v":3.6},{"t":"2024-05-14T14:15","c":"CHF","v":3},{"t":"2024-05-14T14:30","c":"CHF","v":4.3},{"t":"2024-05-14T14:45","c":"CHF","v":5.6},
      {"t":"2024-05-14T15:00","c":"CHF","v":4.3},{"t":"2024-05-14T15:15","c":"CHF","v":7.2},{"t":"2024-05-14T15:30","c":"CHF","v":6.9},{"t":"2024-05-14T15:45","c":"CHF","v":7},
      {"t":"2024-05-14T16:00","c":"CHF","v":7.1},{"t":"2024-05-14T16:15","c":"CHF","v":5.4},{"t":"2024-05-14T16:30","c":"CHF","v":7.2},{"t":"2024-05-14T16:45","c":"CHF","v":5.4},
      {"t":"2024-05-14T17:00","c":"CHF","v":5.6},{"t":"2024-05-14T17:15","c":"CHF","v":6.1},{"t":"2024-05-14T17:30","c":"CHF","v":8},{"t":"2024-05-14T17:45","c":"CHF","v":2.3},
      {"t":"2024-05-14T18:00","c":"CHF","v":3},{"t":"2024-05-14T18:15","c":"CHF","v":4.6},{"t":"2024-05-14T18:30","c":"CHF","v":5},{"t":"2024-05-14T18:45","c":"CHF","v":3},
      {"t":"2024-05-14T19:00","c":"CHF","v":2.3},{"t":"2024-05-14T19:15","c":"CHF","v":2.7},{"t":"2024-05-14T19:30","c":"CHF","v":3},{"t":"2024-05-14T19:45","c":"CHF","v":2},
      {"t":"2024-05-14T20:00","c":"CHF","v":0.8},{"t":"2024-05-14T20:15","c":"CHF","v":2.6},{"t":"2024-05-14T20:30","c":"CHF","v":4.8},{"t":"2024-05-14T20:45","c":"CHF","v":11},
      {"t":"2024-05-14T21:00","c":"CHF","v":9.6},{"t":"2024-05-14T21:15","c":"CHF","v":7.9},{"t":"2024-05-14T21:30","c":"CHF","v":9.6},{"t":"2024-05-14T21:45","c":"CHF","v":15.1},
      {"t":"2024-05-14T22:00","c":"CHF","v":12.5},{"t":"2024-05-14T22:15","c":"CHF","v":5.2},{"t":"2024-05-14T22:30","c":"CHF","v":9.2},{"t":"2024-05-14T22:45","c":"CHF","v":11.6},
      {"t":"2024-05-14T23:00","c":"CHF","v":13.1},{"t":"2024-05-14T23:15","c":"CHF","v":12.5},{"t":"2024-05-14T23:30","c":"CHF","v":10.2},{"t":"2024-05-14T23:45","c":"CHF","v":10.5},
      {"t":"2024-05-15T00:00","c":"CHF","v":9.3},{"t":"2024-05-15T00:15","c":"CHF","v":6.5},{"t":"2024-05-15T00:30","c":"CHF","v":3.3},{"t":"2024-05-15T00:45","c":"CHF","v":3.1},
      {"t":"2024-05-15T01:00","c":"CHF","v":3.6},{"t":"2024-05-15T01:15","c":"CHF","v":-0.8},{"t":"2024-05-15T01:30","c":"CHF","v":-4},{"t":"2024-05-15T01:45","c":"CHF","v":-4.1},
      {"t":"2024-05-15T02:00","c":"CHF","v":-4.5},{"t":"2024-05-15T02:15","c":"CHF","v":-3.6},{"t":"2024-05-15T02:30","c":"CHF","v":-5},{"t":"2024-05-15T02:45","c":"CHF","v":-2},
      {"t":"2024-05-15T03:00","c":"CHF","v":-4.3},{"t":"2024-05-15T03:15","c":"CHF","v":-3.5},{"t":"2024-05-15T03:30","c":"CHF","v":-2.1},{"t":"2024-05-15T03:45","c":"CHF","v":1.1},
      {"t":"2024-05-15T04:00","c":"CHF","v":2.1},{"t":"2024-05-15T04:15","c":"CHF","v":2.3},{"t":"2024-05-15T04:30","c":"CHF","v":2.2},{"t":"2024-05-15T04:45","c":"CHF","v":1.9},
      {"t":"2024-05-15T05:00","c":"CHF","v":2.2},{"t":"2024-05-15T05:15","c":"CHF","v":2.3},{"t":"2024-05-15T05:30","c":"CHF","v":3.5},{"t":"2024-05-15T05:45","c":"CHF","v":4.2},
      {"t":"2024-05-14T21:10","c":"CHF","v":5.7},{"t":"2024-05-14T22:20","c":"CHF","v":3.1},{"t":"2024-05-15T01:40","c":"CHF","v":-5.7},

      {"t":"2024-05-14T06:00","c":"CAD","v":0},{"t":"2024-05-14T06:15","c":"CAD","v":0.6},{"t":"2024-05-14T06:30","c":"CAD","v":-0.5},{"t":"2024-05-14T06:45","c":"CAD","v":-0.7},
      {"t":"2024-05-14T07:00","c":"CAD","v":1.5},{"t":"2024-05-14T07:15","c":"CAD","v":1.9},{"t":"2024-05-14T07:30","c":"CAD","v":2.1},{"t":"2024-05-14T07:45","c":"CAD","v":1.8},
      {"t":"2024-05-14T08:00","c":"CAD","v":2.2},{"t":"2024-05-14T08:15","c":"CAD","v":2.5},{"t":"2024-05-14T08:30","c":"CAD","v":3},{"t":"2024-05-14T08:45","c":"CAD","v":3.8},
      {"t":"2024-05-14T09:00","c":"CAD","v":3.7},{"t":"2024-05-14T09:15","c":"CAD","v":1.9},{"t":"2024-05-14T09:30","c":"CAD","v":2.6},{"t":"2024-05-14T09:45","c":"CAD","v":3.1},
      {"t":"2024-05-14T10:00","c":"CAD","v":6.3},{"t":"2024-05-14T10:15","c":"CAD","v":4},{"t":"2024-05-14T10:30","c":"CAD","v":2.8},{"t":"2024-05-14T10:45","c":"CAD","v":0.9},
      {"t":"2024-05-14T11:00","c":"CAD","v":1.1},{"t":"2024-05-14T11:15","c":"CAD","v":1.2},{"t":"2024-05-14T11:30","c":"CAD","v":1.6},{"t":"2024-05-14T11:45","c":"CAD","v":0.6},
      {"t":"2024-05-14T12:00","c":"CAD","v":2.6},{"t":"2024-05-14T12:15","c":"CAD","v":2.5},{"t":"2024-05-14T12:30","c":"CAD","v":1.5},{"t":"2024-05-14T12:45","c":"CAD","v":3},
      {"t":"2024-05-14T13:00","c":"CAD","v":2.2},{"t":"2024-05-14T13:15","c":"CAD","v":2.9},{"t":"2024-05-14T13:30","c":"CAD","v":1.3},{"t":"2024-05-14T13:45","c":"CAD","v":1.1},
      {"t":"2024-05-14T14:00","c":"CAD","v":0.9},{"t":"2024-05-14T14:15","c":"CAD","v":1.5},{"t":"2024-05-14T14:30","c":"CAD","v":0.3},{"t":"2024-05-14T14:45","c":"CAD","v":0.5},
      {"t":"2024-05-14T15:00","c":"CAD","v":-0.5},{"t":"2024-05-14T15:15","c":"CAD","v":-9.2},{"t":"2024-05-14T15:30","c":"CAD","v":-8.2},{"t":"2024-05-14T15:45","c":"CAD","v":-6.4},
      {"t":"2024-05-14T16:00","c":"CAD","v":-8.2},{"t":"2024-05-14T16:15","c":"CAD","v":-7.1},{"t":"2024-05-14T16:30","c":"CAD","v":-6.5},{"t":"2024-05-14T16:45","c":"CAD","v":-3.8},
      {"t":"2024-05-14T17:00","c":"CAD","v":-2.3},{"t":"2024-05-14T17:15","c":"CAD","v":0.5},{"t":"2024-05-14T17:30","c":"CAD","v":1.2},{"t":"2024-05-14T17:45","c":"CAD","v":2.5},
      {"t":"2024-05-14T18:00","c":"CAD","v":5.7},{"t":"2024-05-14T18:15","c":"CAD","v":6.1},{"t":"2024-05-14T18:30","c":"CAD","v":4.6},{"t":"2024-05-14T18:45","c":"CAD","v":4.5},
      {"t":"2024-05-14T19:00","c":"CAD","v":4.6},{"t":"2024-05-14T19:15","c":"CAD","v":3.6},{"t":"2024-05-14T19:30","c":"CAD","v":3},{"t":"2024-05-14T19:45","c":"CAD","v":0},
      {"t":"2024-05-14T20:00","c":"CAD","v":-3.5},{"t":"2024-05-14T20:15","c":"CAD","v":-8.7},{"t":"2024-05-14T20:30","c":"CAD","v":-11.5},{"t":"2024-05-14T20:45","c":"CAD","v":-16},
      {"t":"2024-05-14T21:00","c":"CAD","v":-22},{"t":"2024-05-14T21:15","c":"CAD","v":-22.7},{"t":"2024-05-14T21:30","c":"CAD","v":-20.5},{"t":"2024-05-14T21:45","c":"CAD","v":-23.3},
      {"t":"2024-05-14T22:00","c":"CAD","v":-24.5},{"t":"2024-05-14T22:15","c":"CAD","v":-25.5},{"t":"2024-05-14T22:30","c":"CAD","v":-30.9},{"t":"2024-05-14T22:45","c":"CAD","v":-31},
      {"t":"2024-05-14T23:00","c":"CAD","v":-30.8},{"t":"2024-05-14T23:15","c":"CAD","v":-28.5},{"t":"2024-05-14T23:30","c":"CAD","v":-26.5},{"t":"2024-05-14T23:45","c":"CAD","v":-27.5},
      {"t":"2024-05-15T00:00","c":"CAD","v":-22.5},{"t":"2024-05-15T00:15","c":"CAD","v":-26.5},{"t":"2024-05-15T00:30","c":"CAD","v":-24.6},{"t":"2024-05-15T00:45","c":"CAD","v":-33.8},
      {"t":"2024-05-15T01:00","c":"CAD","v":-35.1},{"t":"2024-05-15T01:15","c":"CAD","v":-33.4},{"t":"2024-05-15T01:30","c":"CAD","v":-36.4},{"t":"2024-05-15T01:45","c":"CAD","v":-34.5},
      {"t":"2024-05-15T02:00","c":"CAD","v":-33},{"t":"2024-05-15T02:15","c":"CAD","v":-32.8},{"t":"2024-05-15T02:30","c":"CAD","v":-32.5},{"t":"2024-05-15T02:45","c":"CAD","v":-33.6},
      {"t":"2024-05-15T03:00","c":"CAD","v":-32.2},{"t":"2024-05-15T03:15","c":"CAD","v":-32.7},{"t":"2024-05-15T03:30","c":"CAD","v":-34},{"t":"2024-05-15T03:45","c":"CAD","v":-31.5},
      {"t":"2024-05-15T04:00","c":"CAD","v":-31.3},{"t":"2024-05-15T04:15","c":"CAD","v":-30.1},{"t":"2024-05-15T04:30","c":"CAD","v":-30.5},{"t":"2024-05-15T04:45","c":"CAD","v":-30.5},
      {"t":"2024-05-15T05:00","c":"CAD","v":-31.9},{"t":"2024-05-15T05:15","c":"CAD","v":-31.7},{"t":"2024-05-15T05:30","c":"CAD","v":-30.2},{"t":"2024-05-15T05:45","c":"CAD","v":-32.1},
      {"t":"2024-05-14T15:25","c":"CAD","v":-9.8},{"t":"2024-05-14T16:05","c":"CAD","v":-9.8},{"t":"2024-05-14T21:05","c":"CAD","v":-23.6},

      {"t":"2024-05-14T06:00","c":"NZD","v":0},{"t":"2024-05-14T06:15","c":"NZD","v":-8},{"t":"2024-05-14T06:30","c":"NZD","v":-7.5},{"t":"2024-05-14T06:45","c":"NZD","v":-1.3},
      {"t":"2024-05-14T07:00","c":"NZD","v":-0.5},{"t":"2024-05-14T07:15","c":"NZD","v":0.6},{"t":"2024-05-14T07:30","c":"NZD","v":0.3},{"t":"2024-05-14T07:45","c":"NZD","v":-0.3},
      {"t":"2024-05-14T08:00","c":"NZD","v":0.1},{"t":"2024-05-14T08:15","c":"NZD","v":-1},{"t":"2024-05-14T08:30","c":"NZD","v":-2.8},{"t":"2024-05-14T08:45","c":"NZD","v":-1.5},
      {"t":"2024-05-14T09:00","c":"NZD","v":-2.6},{"t":"2024-05-14T09:15","c":"NZD","v":-5.2},{"t":"2024-05-14T09:30","c":"NZD","v":-3.9},{"t":"2024-05-14T09:45","c":"NZD","v":-2.8},
      {"t":"2024-05-14T10:00","c":"NZD","v":-4.3},{"t":"2024-05-14T10:15","c":"NZD","v":-2.3},{"t":"2024-05-14T10:30","c":"NZD","v":-2.6},{"t":"2024-05-14T10:45","c":"NZD","v":-7.2},
      {"t":"2024-05-14T11:00","c":"NZD","v":-5.4},{"t":"2024-05-14T11:15","c":"NZD","v":-3.8},{"t":"2024-05-14T11:30","c":"NZD","v":-3.7},{"t":"2024-05-14T11:45","c":"NZD","v":-3.3},
      {"t":"2024-05-14T12:00","c":"NZD","v":-7},{"t":"2024-05-14T12:15","c":"NZD","v":-8.1},{"t":"2024-05-14T12:30","c":"NZD","v":-6.4},{"t":"2024-05-14T12:45","c":"NZD","v":-8.3},
      {"t":"2024-05-14T13:00","c":"NZD","v":-6},{"t":"2024-05-14T13:15","c":"NZD","v":-4.8},{"t":"2024-05-14T13:30","c":"NZD","v":-6.3},{"t":"2024-05-14T13:45","c":"NZD","v":-6.2},
      {"t":"2024-05-14T14:00","c":"NZD","v":-5.8},{"t":"2024-05-14T14:15","c":"NZD","v":-9.7},{"t":"2024-05-14T14:30","c":"NZD","v":-9.3},{"t":"2024-05-14T14:45","c":"NZD","v":-9.9},
      {"t":"2024-05-14T15:00","c":"NZD","v":-8.1},{"t":"2024-05-14T15:15","c":"NZD","v":-6.4},{"t":"2024-05-14T15:30","c":"NZD","v":-5.6},{"t":"2024-05-14T15:45","c":"NZD","v":-6.5},
      {"t":"2024-05-14T16:00","c":"NZD","v":-4.8},{"t":"2024-05-14T16:15","c":"NZD","v":-2.8},{"t":"2024-05-14T16:30","c":"NZD","v":-3.5},{"t":"2024-05-14T16:45","c":"NZD","v":-2.2},
      {"t":"2024-05-14T17:00","c":"NZD","v":1},{"t":"2024-05-14T17:15","c":"NZD","v":-0.1},{"t":"2024-05-14T17:30","c":"NZD","v":-1},{"t":"2024-05-14T17:45","c":"NZD","v":-0.9},
      {"t":"2024-05-14T18:00","c":"NZD","v":-1.6},{"t":"2024-05-14T18:15","c":"NZD","v":-2.5},{"t":"2024-05-14T18:30","c":"NZD","v":2},{"t":"2024-05-14T18:45","c":"NZD","v":2.5},
      {"t":"2024-05-14T19:00","c":"NZD","v":2.5},{"t":"2024-05-14T19:15","c":"NZD","v":2.8},{"t":"2024-05-14T19:30","c":"NZD","v":3.3},{"t":"2024-05-14T19:45","c":"NZD","v":7.5},
      {"t":"2024-05-14T20:00","c":"NZD","v":10.6},{"t":"2024-05-14T20:15","c":"NZD","v":12},{"t":"2024-05-14T20:30","c":"NZD","v":12.5},{"t":"2024-05-14T20:45","c":"NZD","v":15},
      {"t":"2024-05-14T21:00","c":"NZD","v":13.7},{"t":"2024-05-14T21:15","c":"NZD","v":14.2},{"t":"2024-05-14T21:30","c":"NZD","v":12.8},{"t":"2024-05-14T21:45","c":"NZD","v":17.5},
      {"t":"2024-05-14T22:00","c":"NZD","v":17.2},{"t":"2024-05-14T22:15","c":"NZD","v":17.8},{"t":"2024-05-14T22:30","c":"NZD","v":20.5},{"t":"2024-05-14T22:45","c":"NZD","v":18.5},
      {"t":"2024-05-14T23:00","c":"NZD","v":24},{"t":"2024-05-14T23:15","c":"NZD","v":22.5},{"t":"2024-05-14T23:30","c":"NZD","v":24.1},{"t":"2024-05-14T23:45","c":"NZD","v":20.7},
      {"t":"2024-05-15T00:00","c":"NZD","v":15.3},{"t":"2024-05-15T00:15","c":"NZD","v":13.8},{"t":"2024-05-15T00:30","c":"NZD","v":13.3},{"t":"2024-05-15T00:45","c":"NZD","v":14.8},
      {"t":"2024-05-15T01:00","c":"NZD","v":19.3},{"t":"2024-05-15T01:15","c":"NZD","v":21},{"t":"2024-05-15T01:30","c":"NZD","v":23.5},{"t":"2024-05-15T01:45","c":"NZD","v":24.4},
      {"t":"2024-05-15T02:00","c":"NZD","v":22.8},{"t":"2024-05-15T02:15","c":"NZD","v":25.2},{"t":"2024-05-15T02:30","c":"NZD","v":26},{"t":"2024-05-15T02:45","c":"NZD","v":29.4},
      {"t":"2024-05-15T03:00","c":"NZD","v":27},{"t":"2024-05-15T03:15","c":"NZD","v":25.8},{"t":"2024-05-15T03:30","c":"NZD","v":25},{"t":"2024-05-15T03:45","c":"NZD","v":25.5},
      {"t":"2024-05-15T04:00","c":"NZD","v":27},{"t":"2024-05-15T04:15","c":"NZD","v":27.4},{"t":"2024-05-15T04:30","c":"NZD","v":28.6},{"t":"2024-05-15T04:45","c":"NZD","v":29.9},
      {"t":"2024-05-15T05:00","c":"NZD","v":30},{"t":"2024-05-15T05:15","c":"NZD","v":31.8},{"t":"2024-05-15T05:30","c":"NZD","v":29},{"t":"2024-05-15T05:45","c":"NZD","v":30.5},
      {"t":"2024-05-14T06:25","c":"NZD","v":-2.9},{"t":"2024-05-14T10:50","c":"NZD","v":-9.5},{"t":"2024-05-14T12:20","c":"NZD","v":-9.2},{"t":"2024-05-14T12:35","c":"NZD","v":-2.3},
      {"t":"2024-05-14T17:05","c":"NZD","v":2.5},{"t":"2024-05-14T21:05","c":"NZD","v":19.3}
    ]
  },
  "layer": [
    {
      "mark": {"type": "rule", "color": "#000000", "strokeWidth": 1},
      "encoding": {"y": {"datum": 0, "type": "quantitative"}}
    },
    {
      "mark": {"type": "line", "strokeWidth": 2, "clip": true},
      "encoding": {
        "x": {
          "field": "t",
          "type": "temporal",
          "title": null,
          "scale": {
            "domain": [
              {"year": 2024, "month": 5, "date": 14, "hours": 6},
              {"year": 2024, "month": 5, "date": 15, "hours": 5, "minutes": 45}
            ],
            "nice": false
          },
          "axis": {
            "values": [
              {"year": 2024, "month": 5, "date": 14, "hours": 6},
              {"year": 2024, "month": 5, "date": 14, "hours": 9},
              {"year": 2024, "month": 5, "date": 14, "hours": 12},
              {"year": 2024, "month": 5, "date": 14, "hours": 15},
              {"year": 2024, "month": 5, "date": 14, "hours": 18},
              {"year": 2024, "month": 5, "date": 14, "hours": 21},
              {"year": 2024, "month": 5, "date": 15, "hours": 0},
              {"year": 2024, "month": 5, "date": 15, "hours": 3},
              {"year": 2024, "month": 5, "date": 15, "hours": 5, "minutes": 45}
            ],
            "format": "%-H:%M",
            "domain": false,
            "labelFlush": false,
            "labelOverlap": false,
            "labelPadding": 6,
            "labelFontWeight": {
              "condition": {"test": "minutes(datum.value) == 45 || (hours(datum.value) == 6 && date(datum.value) == 14)", "value": "bold"},
              "value": "normal"
            },
            "gridColor": {
              "condition": {"test": "minutes(datum.value) == 45 || (hours(datum.value) == 6 && date(datum.value) == 14)", "value": "transparent"},
              "value": "#e3e3e3"
            }
          }
        },
        "y": {
          "field": "v",
          "type": "quantitative",
          "title": null,
          "scale": {"domain": [-59.75, 62.45], "nice": false, "zero": false},
          "axis": {
            "values": [-50, -40, -30, -20, -10, 0, 10, 20, 30, 40, 50, 60],
            "labelExpr": "'' + datum.value",
            "domain": true,
            "domainColor": "#333333",
            "domainWidth": 2,
            "labelPadding": 4
          }
        },
        "color": {
          "field": "c",
          "type": "nominal",
          "scale": {
            "domain": ["USD", "EUR", "JPY", "GBP", "AUD", "CHF", "CAD", "NZD"],
            "range": ["#f59d1c", "#ee1111", "#1ec8ee", "#12bb12", "#1036dd", "#946615", "#9a12ea", "#ee44cc"]
          },
          "legend": {
            "title": null,
            "orient": "none",
            "legendX": 731,
            "legendY": -25,
            "direction": "horizontal",
            "columns": 8,
            "gridAlign": "all",
            "columnPadding": 21,
            "padding": 0,
            "symbolType": "circle",
            "symbolSize": 180,
            "symbolStrokeWidth": 0,
            "labelFontSize": 16,
            "labelOffset": 5,
            "labelColor": "#000000",
            "encode": {
              "symbols": {
                "update": {
                  "fill": {"scale": "color", "field": "value"},
                  "stroke": {"value": "transparent"}
                }
              }
            }
          }
        }
      }
    }
  ],
  "config": {
    "font": "Liberation Sans",
    "view": {"stroke": null},
    "axis": {
      "labelFont": "Liberation Sans",
      "labelFontSize": 16,
      "labelColor": "#000000",
      "ticks": false,
      "tickSize": 0,
      "gridColor": "#e3e3e3",
      "gridWidth": 1
    },
    "legend": {"labelFont": "Liberation Sans"}
  }
}
